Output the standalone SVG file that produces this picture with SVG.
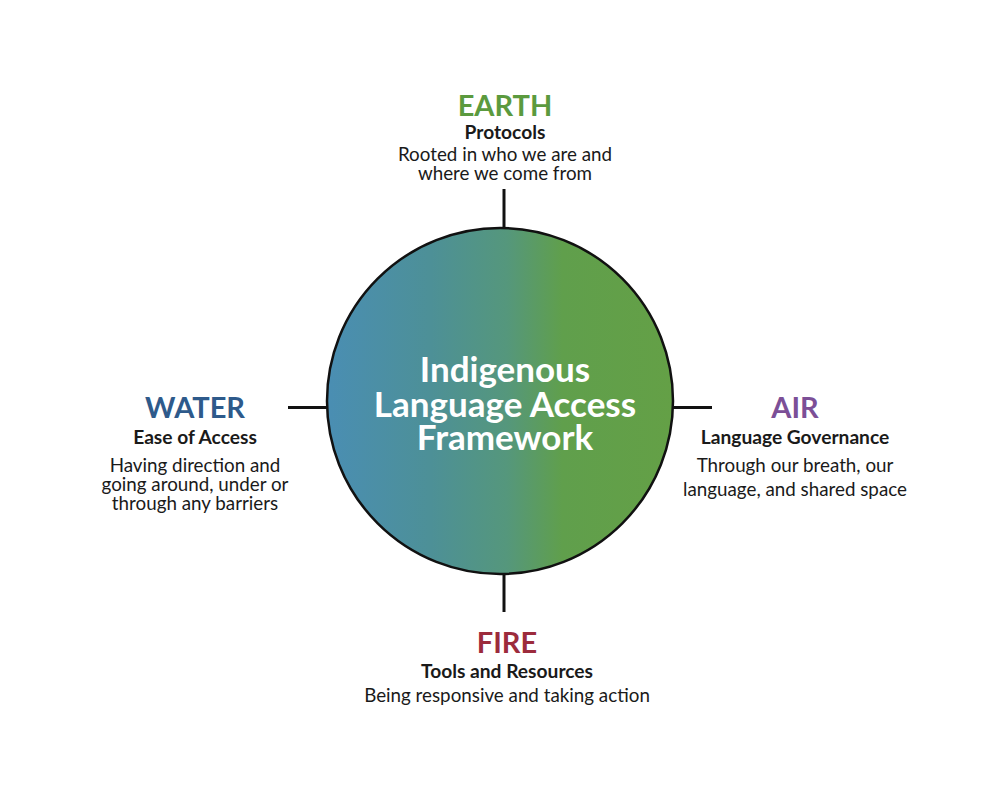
<svg xmlns="http://www.w3.org/2000/svg" width="1000" height="800" viewBox="0 0 1000 800">
<defs>
<linearGradient id="g" x1="0" y1="0" x2="1" y2="0">
<stop offset="0" stop-color="#4a8eb3"/>
<stop offset="0.3" stop-color="#4d9097"/>
<stop offset="0.52" stop-color="#55977c"/>
<stop offset="0.68" stop-color="#609f4c"/>
<stop offset="1" stop-color="#64a046"/>
</linearGradient>
<style>
text{font-family:Lato,"Open Sans","Liberation Sans",sans-serif;text-anchor:middle}
.h{font-size:29px;font-weight:700}
.s{font-size:19.2px;font-weight:700;fill:#1a1a1a}
.b{font-size:18.8px;fill:#1a1a1a}
.c{font-size:35px;font-weight:700;fill:#ffffff}
.ln{stroke:#111;stroke-width:3;fill:none}
</style>
</defs>
<rect width="1000" height="800" fill="#ffffff"/>
<g id="connectors">
<line class="ln" x1="504" y1="189" x2="504" y2="229"/>
<line class="ln" x1="504" y1="573" x2="504" y2="612"/>
<line class="ln" x1="288" y1="407.5" x2="328" y2="407.5"/>
<line class="ln" x1="672" y1="407.5" x2="712" y2="407.5"/>
</g>
<g id="center">
<circle cx="500" cy="401" r="173" fill="url(#g)" stroke="#111" stroke-width="2.5"/>
<text class="c" x="505" y="382">Indigenous</text>
<text class="c" x="505" y="417">Language Access</text>
<text class="c" x="505" y="450">Framework</text>
</g>
<g id="earth">
<text class="h" x="505" y="116" fill="#5b9a3e">EARTH</text>
<text class="s" x="505" y="139">Protocols</text>
<text class="b" x="505" y="161">Rooted in who we are and</text>
<text class="b" x="505" y="180">where we come from</text>
</g>
<g id="water">
<text class="h" x="195" y="418" fill="#2e5a8b">WATER</text>
<text class="s" x="195" y="444">Ease of Access</text>
<text class="b" x="195" y="472">Having direction and</text>
<text class="b" x="195" y="491">going around, under or</text>
<text class="b" x="195" y="510">through any barriers</text>
</g>
<g id="air">
<text class="h" x="795" y="418" fill="#7c4f97">AIR</text>
<text class="s" x="795" y="444">Language Governance</text>
<text class="b" x="795" y="472">Through our breath, our</text>
<text class="b" x="795" y="496">language, and shared space</text>
</g>
<g id="fire">
<text class="h" x="507" y="653" fill="#9c2b3c">FIRE</text>
<text class="s" x="507" y="678">Tools and Resources</text>
<text class="b" x="507" y="702">Being responsive and taking action</text>
</g>
</svg>
